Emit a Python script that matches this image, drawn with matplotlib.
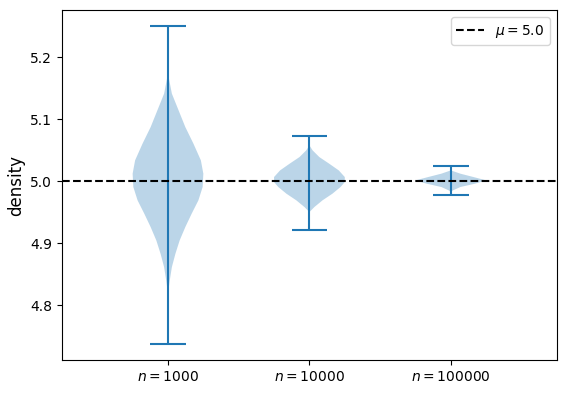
import matplotlib
matplotlib.use("Agg")
import matplotlib.pyplot as plt

# sample sizes and the mean they converge to
sizes = [1000, 10000, 100000]
mu = 5.0
tick_labels = [r'$n = 1000$', r'$n = 10000$', r'$n = 100000$']

# extrema of each sample (whisker ends)
mins = [4.7376, 4.9214, 4.9774]
maxs = [5.2505, 5.0726, 5.0247]

# violin outlines (value, relative density)
coords_1000 = [4.7376, 4.8188, 4.8403, 4.8618, 4.8833, 4.9048, 4.9263, 4.9479, 4.9694,
               4.9909, 5.0124, 5.0339, 5.0608, 5.0876, 5.1145, 5.1414, 5.1737, 5.2505]
dens_1000 = [0.0, 0.0, 0.05, 0.11, 0.21, 0.33, 0.49, 0.67, 0.86,
             0.98, 1.0, 0.93, 0.72, 0.49, 0.30, 0.11, 0.0, 0.0]

coords_10000 = [4.9214, 4.9505, 4.9586, 4.9694, 4.9801, 4.9909, 4.9989, 5.007,
                5.0177, 5.0285, 5.0392, 5.05, 5.0581, 5.0726]
dens_10000 = [0.0, 0.0, 0.14, 0.37, 0.65, 0.88, 1.0, 1.0,
              0.83, 0.56, 0.28, 0.09, 0.0, 0.0]

coords_100000 = [4.9774, 4.9828, 4.9855, 4.9909, 4.9962, 5.0016, 5.007, 5.0124,
                 5.0177, 5.0247]
dens_100000 = [0.0, 0.0, 0.06, 0.27, 0.68, 1.0, 0.64, 0.27, 0.0, 0.0]

coords = [coords_1000, coords_10000, coords_100000]
dens = [dens_1000, dens_10000, dens_100000]

vpstats = []
for c, d, lo, hi in zip(coords, dens, mins, maxs):
    vpstats.append({'coords': c, 'vals': d, 'mean': mu, 'median': mu,
                    'min': lo, 'max': hi})

fig = plt.figure(figsize=(5.68, 3.94), dpi=100)
ax = fig.add_axes([0.109, 0.0863, 0.8715, 0.888])

ax.violin(vpstats, positions=[1, 2, 3])
ax.axhline(mu, color='k', linestyle='--', label=r'$\mu = 5.0$')

ax.set_xticks([1, 2, 3])
ax.set_xticklabels(tick_labels)
ax.set_xlim(0.25, 3.75)
ax.set_ylabel('density', fontsize=12)
ax.legend(loc='upper right')

fig.savefig('out.png', dpi=100)
